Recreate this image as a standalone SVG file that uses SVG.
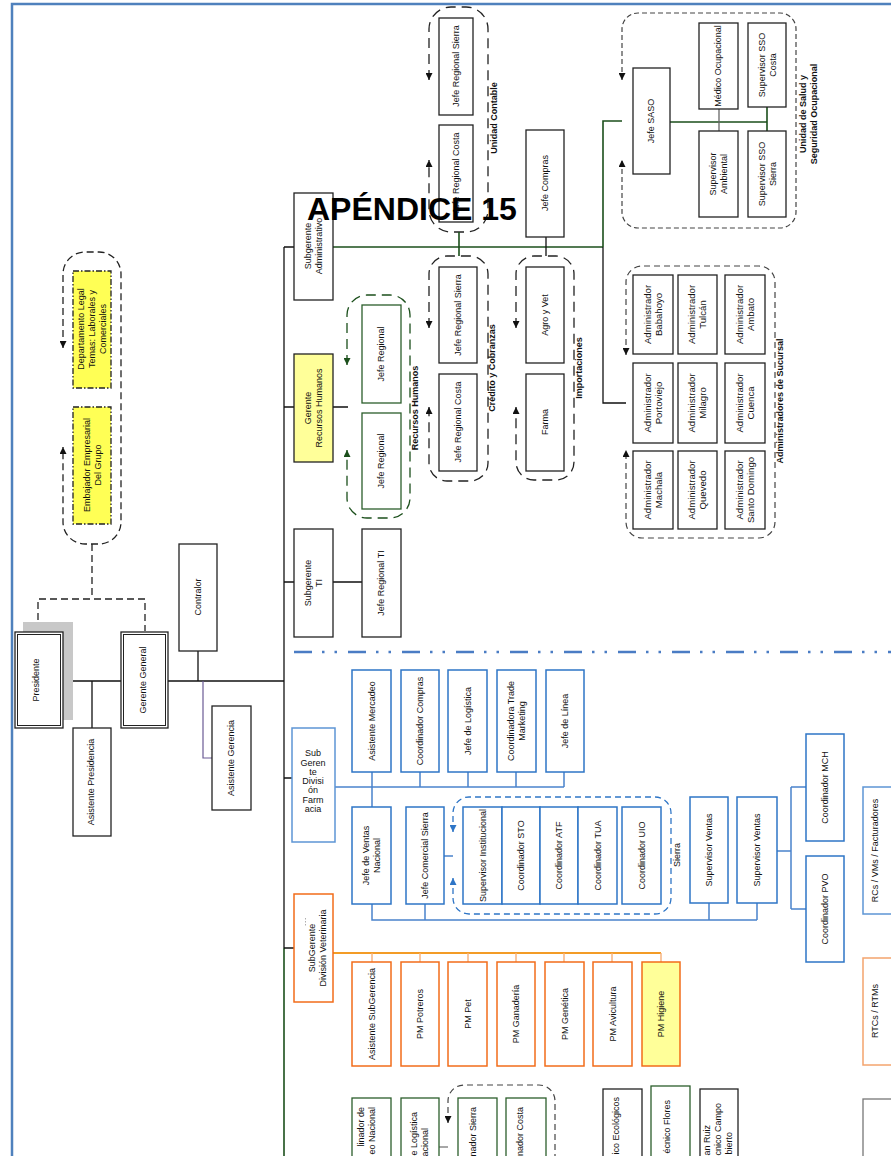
<svg xmlns="http://www.w3.org/2000/svg" width="891" height="1156" viewBox="0 0 891 1156">
  <style>
    .t { font-family: "Liberation Sans", Arial, sans-serif; font-size: 9px; text-anchor: middle; fill: #111; }
    .te { font-family: "Liberation Sans", Arial, sans-serif; font-size: 9px; text-anchor: end; fill: #111; }
    .ta { font-size: 9.6px; }
    .tb { font-weight: bold; }
    .box { fill: #fff; stroke: #222; stroke-width: 1.3; }
    .dbl { fill: none; stroke: #222; stroke-width: 1; }
    .gbox { fill: #fff; stroke: #2b5e2b; stroke-width: 1.3; }
    .bbox { fill: #fff; stroke: #2e75c6; stroke-width: 1.5; }
    .bbox2 { fill: #fff; stroke: #5d95d5; stroke-width: 1.5; }
    .obox { fill: #fff; stroke: #f26c1a; stroke-width: 1.5; }
    .ylw { fill: #ffff99; }
    .ylw2 { fill: #ffff55; stroke-dasharray: 6 2 1.5 2; }
    .ln { fill: none; stroke: #111; stroke-width: 1.3; }
    .lng { fill: none; stroke: #1b4f1b; stroke-width: 1.6; }
    .lnb { fill: none; stroke: #4a83cc; stroke-width: 1.5; }
    .lno { fill: none; stroke: #f39c26; stroke-width: 1.8; }
    .lno2 { fill: none; stroke: #f5b07a; stroke-width: 1.4; }
    .grp { fill: none; stroke: #222; stroke-width: 1.3; stroke-dasharray: 10 6; }
    .grp-s { fill: none; stroke: #444; stroke-width: 1.2; stroke-dasharray: 6 4; }
    .grp-g { fill: none; stroke: #1b4f1b; stroke-width: 1.3; stroke-dasharray: 10 6; }
    .grp-b { fill: none; stroke: #2e75c6; stroke-width: 1.3; stroke-dasharray: 6 4; }
  </style>
  <defs>
    <marker id="ah" viewBox="0 0 10 10" refX="10" refY="5" markerWidth="7" markerHeight="7" markerUnits="userSpaceOnUse" orient="auto-start-reverse">
      <path d="M0,0 L10,5 L0,10 z" fill="#111"/>
    </marker>
    <marker id="ahg" viewBox="0 0 10 10" refX="10" refY="5" markerWidth="7" markerHeight="7" markerUnits="userSpaceOnUse" orient="auto-start-reverse">
      <path d="M0,0 L10,5 L0,10 z" fill="#1b4f1b"/>
    </marker>
    <marker id="ahb" viewBox="0 0 10 10" refX="10" refY="5" markerWidth="7" markerHeight="7" markerUnits="userSpaceOnUse" orient="auto-start-reverse">
      <path d="M0,0 L10,5 L0,10 z" fill="#2e75c6"/>
    </marker>
  </defs>

  <rect width="891" height="1156" fill="#fff"/>

  <!-- page frame -->
  <path d="M12,1156 V4 H891" fill="none" stroke="#4f81bd" stroke-width="2.5"/>

  <!-- dash-dot divider -->
  <path d="M294,652 H891" fill="none" stroke="#4a7cc4" stroke-width="2.6" stroke-dasharray="18 10 2.5 10 2.5 11"/>

  <!-- dashed group outlines with arrowheads -->
  <g id="groups">
    <path class="grp" style="stroke-dasharray:7 4" marker-start="url(#ah)" marker-end="url(#ah)" d="M63,348 V274 A22,22 0 0 1 85,252 H99 A22,22 0 0 1 121,274 V522 A22,22 0 0 1 99,544 H85 A22,22 0 0 1 63,522 V447"/>
    <path class="grp" marker-start="url(#ah)" marker-end="url(#ah)" d="M429,80 V29 A22,22 0 0 1 451,7 H466 A22,22 0 0 1 488,29 V210 A22,22 0 0 1 466,232 H451 A22,22 0 0 1 429,210 V160"/>
    <path class="grp" marker-start="url(#ah)" marker-end="url(#ah)" d="M429,328 V274 A18,18 0 0 1 447,256 H470 A18,18 0 0 1 488,274 V463 A18,18 0 0 1 470,481 H447 A18,18 0 0 1 429,463 V407"/>
    <path class="grp" marker-start="url(#ah)" marker-end="url(#ah)" d="M516,328 V274 A18,18 0 0 1 534,256 H556 A18,18 0 0 1 574,274 V462 A18,18 0 0 1 556,480 H534 A18,18 0 0 1 516,462 V407"/>
    <path class="grp-g" marker-start="url(#ahg)" marker-end="url(#ahg)" d="M347,365 V315 A20,20 0 0 1 367,295 H390 A20,20 0 0 1 410,315 V498 A20,20 0 0 1 390,518 H367 A20,20 0 0 1 347,498 V450"/>
    <path class="grp-s" style="stroke-dasharray:5 3" marker-start="url(#ah)" marker-end="url(#ah)" d="M622,80 V29 A16,16 0 0 1 638,13 H780 A16,16 0 0 1 796,29 V212 A16,16 0 0 1 780,228 H638 A16,16 0 0 1 622,212 V160"/>
    <path class="grp-s" marker-start="url(#ah)" marker-end="url(#ah)" d="M626,355 V282 A16,16 0 0 1 642,266 H759 A16,16 0 0 1 775,282 V522 A16,16 0 0 1 759,538 H642 A16,16 0 0 1 626,522 V450"/>
    <path class="grp-b" marker-start="url(#ahb)" marker-end="url(#ahb)" d="M453,832 V813 A16,16 0 0 1 469,797 H655 A16,16 0 0 1 671,813 V898 A16,16 0 0 1 655,914 H469 A16,16 0 0 1 453,898 V878"/>
    <path class="grp-s" marker-start="url(#ah)" d="M448,1123 V1101 A16,16 0 0 1 464,1085 H539 A16,16 0 0 1 555,1101 V1160"/>
  </g>

  <!-- connectors -->
  <g id="connectors">
    <path class="grp" style="stroke-dasharray:7 4" d="M92,544 V599 M38,631 V599 H145 V631"/>
    <path class="ln" d="M63,681 H121 M92,681 V728 M198,651 V681"/>
    <path class="ln" stroke-width="1.8" d="M168,681 H284"/>
    <path fill="none" stroke="#6b5b95" stroke-width="1.2" d="M203,681 V758 H212"/>
    <path class="ln" stroke-width="2" d="M284,247 V948"/>
    <path class="lng" stroke-width="2" d="M284,948 V1156"/>
    <path class="ln" d="M284,247 H294 M284,407 H294 M333,407 H348 M284,582 H294 M333,582 H362 M284,778 H292 M284,948 H294"/>
    <path class="lng" stroke-width="1.8" d="M333,247 H603"/>
    <path class="lng" d="M459,232 V256 M603,247 V121 H622 M670,122 H767 M767,107 V131"/>
    <path class="ln" d="M546,237 V256 M603,247 V403 H626"/>
    <path fill="none" stroke="#666" stroke-width="1.3" d="M719,109 V131"/>
    <path class="lnb" stroke-width="1.8" d="M335,787 H564"/>
    <path class="lnb" stroke="#7ea7dc" d="M372,772 V807 M420,772 V787 M468,772 V787 M516,772 V787 M564,772 V787"/>
    <path class="lnb" d="M444,856 H453 M372,904 V920 H757 M425,904 V920 M709,903 V920 M757,903 V920"/>
    <path class="lnb" d="M777,851 H791 M791,787 V909 M791,787 H806 M791,909 H806"/>
    <path class="lno" d="M333,953 H564"/>
    <path class="lno" stroke="#f8c97a" d="M564,953 H661"/>
    <path class="lno2" d="M372,953 V962 M420,953 V962 M468,953 V962 M516,953 V962 M564,953 V962 M612,953 V962 M661,953 V962"/>
    <path fill="none" stroke="#777" stroke-width="1.3" d="M439,1147 H448"/>
  </g>

  <!-- executive level -->
  <g id="presidente">
    <rect x="23" y="622" width="50" height="98" fill="#c8c8c8"/>
    <rect class="box" x="15" y="632" width="48" height="96"/>
    <rect class="dbl" x="17.5" y="634.5" width="43" height="91"/>
    <text class="t" transform="translate(36,680) rotate(-90)" y="3.2">Presidente</text>
  </g>
  <g id="gerente-general">
    <rect class="box" x="121" y="632" width="47" height="96"/>
    <rect class="dbl" x="123.5" y="634.5" width="42" height="91"/>
    <text class="t" transform="translate(143,680) rotate(-90)" y="3.2">Gerente General</text>
  </g>
  <g id="asistente-presidencia">
    <rect class="box" x="73" y="728" width="38" height="108"/>
    <text class="t" transform="translate(91,782) rotate(-90)" y="3.2">Asistente Presidencia</text>
  </g>
  <g id="contralor">
    <rect class="box" x="179" y="544" width="38" height="107"/>
    <text class="t" transform="translate(198,597) rotate(-90)" y="3.2">Contralor</text>
  </g>
  <g id="asistente-gerencia">
    <rect class="box" x="212" y="706" width="39" height="104"/>
    <text class="t" transform="translate(231,758) rotate(-90)" y="3.2">Asistente Gerencia</text>
  </g>
  <g id="departamento-legal">
    <rect class="box ylw2" x="73" y="271" width="38" height="117"/>
    <text class="t" transform="translate(92,329) rotate(-90)"><tspan x="0" y="-7.8">Departamento Legal</tspan><tspan x="0" y="3.2">Temas: Laborales y</tspan><tspan x="0" y="14.2">Comerciales</tspan></text>
  </g>
  <g id="embajador">
    <rect class="box ylw2" x="73" y="407" width="38" height="117"/>
    <text class="t" transform="translate(92,465) rotate(-90)"><tspan x="0" y="-2.3">Embajador Empresarial</tspan><tspan x="0" y="8.7">Del Grupo</tspan></text>
  </g>

  <!-- administrative branch -->
  <g id="subgerente-administrativo">
    <rect class="box" x="294" y="193" width="39" height="107"/>
    <text class="t" transform="translate(313,246) rotate(-90)"><tspan x="0" y="-2.3">Subgerente</tspan><tspan x="0" y="8.7">Administrativo</tspan></text>
  </g>
  <g id="uc-jefe-sierra">
    <rect class="box" x="439" y="18" width="34" height="97"/>
    <text class="t" transform="translate(456,66) rotate(-90)" y="3.2">Jefe Regional Sierra</text>
  </g>
  <g id="uc-jefe-costa">
    <rect class="box" x="439" y="125" width="34" height="97"/>
    <text class="t" transform="translate(456,173) rotate(-90)" y="3.2">Jefe Regional Costa</text>
  </g>
  <g id="gerente-rrhh">
    <rect class="box ylw" x="294" y="354" width="39" height="108"/>
    <text class="t" transform="translate(313,408) rotate(-90)"><tspan x="0" y="-2.3">Gerente</tspan><tspan x="0" y="8.7">Recursos Humanos</tspan></text>
  </g>
  <g id="rh-jefe-1">
    <rect class="gbox" x="362" y="305" width="39" height="98"/>
    <text class="t" transform="translate(381,354) rotate(-90)" y="3.2">Jefe Regional</text>
  </g>
  <g id="rh-jefe-2">
    <rect class="gbox" x="362" y="413" width="39" height="96"/>
    <text class="t" transform="translate(381,461) rotate(-90)" y="3.2">Jefe Regional</text>
  </g>
  <g id="cc-jefe-sierra">
    <rect class="box" x="439" y="267" width="38" height="96"/>
    <text class="t" transform="translate(458,315) rotate(-90)" y="3.2">Jefe Regional Sierra</text>
  </g>
  <g id="cc-jefe-costa">
    <rect class="box" x="439" y="374" width="38" height="97"/>
    <text class="t" transform="translate(458,422) rotate(-90)" y="3.2">Jefe Regional Costa</text>
  </g>
  <g id="jefe-compras">
    <rect class="box" x="526" y="130" width="38" height="107"/>
    <text class="t" transform="translate(545,183) rotate(-90)" y="3.2">Jefe Compras</text>
  </g>
  <g id="agro-vet">
    <rect class="box" x="526" y="267" width="38" height="96"/>
    <text class="t" transform="translate(545,315) rotate(-90)" y="3.2">Agro y Vet</text>
  </g>
  <g id="farma">
    <rect class="box" x="526" y="374" width="38" height="97"/>
    <text class="t" transform="translate(545,422) rotate(-90)" y="3.2">Farma</text>
  </g>
  <g id="jefe-saso">
    <rect class="box" x="633" y="68" width="37" height="106"/>
    <text class="t" transform="translate(651,121) rotate(-90)" y="3.2">Jefe SASO</text>
  </g>
  <g id="medico">
    <rect class="box" x="699" y="23" width="39" height="86"/>
    <text class="t" transform="translate(718,66) rotate(-90)" y="3.2">Médico Ocupacional</text>
  </g>
  <g id="sso-costa">
    <rect class="box" x="748" y="23" width="38" height="84"/>
    <text class="t" transform="translate(767,65) rotate(-90)"><tspan x="0" y="-2.3">Supervisor SSO</tspan><tspan x="0" y="8.7">Costa</tspan></text>
  </g>
  <g id="sup-ambiental">
    <rect class="box" x="699" y="131" width="39" height="86"/>
    <text class="t" transform="translate(718,174) rotate(-90)"><tspan x="0" y="-2.3">Supervisor</tspan><tspan x="0" y="8.7">Ambiental</tspan></text>
  </g>
  <g id="sso-sierra">
    <rect class="box" x="748" y="131" width="38" height="86"/>
    <text class="t" transform="translate(767,174) rotate(-90)"><tspan x="0" y="-2.3">Supervisor SSO</tspan><tspan x="0" y="8.7">Sierra</tspan></text>
  </g>

  <g id="adm-babahoyo">
    <rect class="box" x="633" y="275" width="40" height="79"/>
    <text class="t ta" transform="translate(653,314.5) rotate(-90)"><tspan x="0" y="-2.3">Administrador</tspan><tspan x="0" y="8.7">Babahoyo</tspan></text>
  </g>
  <g id="adm-tulcan">
    <rect class="box" x="678" y="275" width="39" height="79"/>
    <text class="t ta" transform="translate(697.5,314.5) rotate(-90)"><tspan x="0" y="-2.3">Administrador</tspan><tspan x="0" y="8.7">Tulcán</tspan></text>
  </g>
  <g id="adm-ambato">
    <rect class="box" x="725" y="275" width="40" height="79"/>
    <text class="t ta" transform="translate(745,314.5) rotate(-90)"><tspan x="0" y="-2.3">Administrador</tspan><tspan x="0" y="8.7">Ambato</tspan></text>
  </g>
  <g id="adm-portoviejo">
    <rect class="box" x="633" y="363" width="40" height="80"/>
    <text class="t ta" transform="translate(653,403) rotate(-90)"><tspan x="0" y="-2.3">Administrador</tspan><tspan x="0" y="8.7">Portoviejo</tspan></text>
  </g>
  <g id="adm-milagro">
    <rect class="box" x="678" y="363" width="39" height="80"/>
    <text class="t ta" transform="translate(697.5,403) rotate(-90)"><tspan x="0" y="-2.3">Administrador</tspan><tspan x="0" y="8.7">Milagro</tspan></text>
  </g>
  <g id="adm-cuenca">
    <rect class="box" x="725" y="363" width="40" height="80"/>
    <text class="t ta" transform="translate(745,403) rotate(-90)"><tspan x="0" y="-2.3">Administrador</tspan><tspan x="0" y="8.7">Cuenca</tspan></text>
  </g>
  <g id="adm-machala">
    <rect class="box" x="633" y="451" width="40" height="78"/>
    <text class="t ta" transform="translate(653,490) rotate(-90)"><tspan x="0" y="-2.3">Administrador</tspan><tspan x="0" y="8.7">Machala</tspan></text>
  </g>
  <g id="adm-quevedo">
    <rect class="box" x="678" y="451" width="39" height="78"/>
    <text class="t ta" transform="translate(697.5,490) rotate(-90)"><tspan x="0" y="-2.3">Administrador</tspan><tspan x="0" y="8.7">Quevedo</tspan></text>
  </g>
  <g id="adm-santo-domingo">
    <rect class="box" x="725" y="451" width="40" height="78"/>
    <text class="t ta" transform="translate(745,490) rotate(-90)"><tspan x="0" y="-2.3">Administrador</tspan><tspan x="0" y="8.7">Santo Domingo</tspan></text>
  </g>

  <g id="subgerente-ti">
    <rect class="box" x="294" y="529" width="39" height="108"/>
    <text class="t" transform="translate(313,583) rotate(-90)"><tspan x="0" y="-2.3">Subgerente</tspan><tspan x="0" y="8.7">TI</tspan></text>
  </g>
  <g id="jefe-ti">
    <rect class="box" x="362" y="529" width="39" height="108"/>
    <text class="t" transform="translate(381,583) rotate(-90)" y="3.2">Jefe Regional TI</text>
  </g>

  <!-- group labels -->
  <g id="group-labels">
    <text class="t tb" transform="translate(494,118) rotate(-90)" y="3.2">Unidad Contable</text>
    <text class="t tb" transform="translate(415,408) rotate(-90)" y="3.2">Recursos Humanos</text>
    <text class="t tb" transform="translate(492,368) rotate(-90)" y="3.2">Crédito y Cobranzas</text>
    <text class="t tb" transform="translate(579,368) rotate(-90)" y="3.2">Importaciones</text>
    <text class="t tb" transform="translate(808,114) rotate(-90)"><tspan x="0" y="-2.3">Unidad de Salud y</tspan><tspan x="0" y="8.7">Seguridad Ocupacional</tspan></text>
    <text class="t tb" transform="translate(780,401) rotate(-90)" y="3.2">Administradores de Sucursal</text>
    <text class="t" transform="translate(677,855) rotate(-90)" y="3.2">Sierra</text>
  </g>

  <!-- pharmacy division -->
  <g id="sg-farmacia">
    <rect class="bbox2" x="292" y="728" width="43" height="114"/>
    <text class="t"><tspan x="313" y="756">Sub</tspan><tspan x="313" y="765.5">Geren</tspan><tspan x="313" y="775">te</tspan><tspan x="313" y="784">Divisi</tspan><tspan x="313" y="793">ón</tspan><tspan x="313" y="802.5">Farm</tspan><tspan x="313" y="812">acia</tspan></text>
  </g>
  <g id="asistente-mercadeo">
    <rect class="bbox" x="352" y="670" width="39" height="102"/>
    <text class="t" transform="translate(371.5,721) rotate(-90)" y="3.2">Asistente Mercadeo</text>
  </g>
  <g id="coordinador-compras">
    <rect class="bbox" x="401" y="670" width="38" height="102"/>
    <text class="t" transform="translate(420,721) rotate(-90)" y="3.2">Coordinador Compras</text>
  </g>
  <g id="jefe-logistica">
    <rect class="bbox" x="448" y="670" width="39" height="102"/>
    <text class="t" transform="translate(467.5,721) rotate(-90)" y="3.2">Jefe de Logística</text>
  </g>
  <g id="coordinadora-trade">
    <rect class="bbox" x="497" y="670" width="39" height="102"/>
    <text class="t" transform="translate(516.5,721) rotate(-90)"><tspan x="0" y="-2.3">Coordinadora Trade</tspan><tspan x="0" y="8.7">Marketing</tspan></text>
  </g>
  <g id="jefe-linea">
    <rect class="bbox" x="546" y="670" width="38" height="102"/>
    <text class="t" transform="translate(565,721) rotate(-90)" y="3.2">Jefe de Línea</text>
  </g>
  <g id="jefe-ventas-nacional">
    <rect class="bbox" x="352" y="807" width="39" height="97"/>
    <text class="t" transform="translate(371.5,855.5) rotate(-90)"><tspan x="0" y="-2.3">Jefe de Ventas</tspan><tspan x="0" y="8.7">Nacional</tspan></text>
  </g>
  <g id="jefe-comercial-sierra">
    <rect class="bbox" x="406" y="807" width="38" height="97"/>
    <text class="t" transform="translate(425,855.5) rotate(-90)" y="3.2">Jefe Comercial Sierra</text>
  </g>
  <g id="supervisor-institucional">
    <rect class="bbox" x="463" y="807" width="39" height="97"/>
    <text class="t" transform="translate(482.5,855.5) rotate(-90)" y="3.2">Supervisor Institucional</text>
  </g>
  <g id="coordinador-sto">
    <rect class="bbox" x="502" y="807" width="38" height="97"/>
    <text class="t" transform="translate(521,855.5) rotate(-90)" y="3.2">Coordinador STO</text>
  </g>
  <g id="coordinador-atf">
    <rect class="bbox" x="540" y="807" width="38" height="97"/>
    <text class="t" transform="translate(559,855.5) rotate(-90)" y="3.2">Coordinador ATF</text>
  </g>
  <g id="coordinador-tua">
    <rect class="bbox" x="578" y="807" width="39" height="97"/>
    <text class="t" transform="translate(597.5,855.5) rotate(-90)" y="3.2">Coordinador TUA</text>
  </g>
  <g id="coordinador-uio">
    <rect class="bbox" x="622" y="807" width="39" height="97"/>
    <text class="t" transform="translate(641.5,855.5) rotate(-90)" y="3.2">Coordinador UIO</text>
  </g>
  <g id="supervisor-ventas-1">
    <rect class="bbox" x="690" y="797" width="38" height="106"/>
    <text class="t" transform="translate(709,850) rotate(-90)" y="3.2">Supervisor Ventas</text>
  </g>
  <g id="supervisor-ventas-2">
    <rect class="bbox" x="737" y="797" width="40" height="106"/>
    <text class="t" transform="translate(757,850) rotate(-90)" y="3.2">Supervisor Ventas</text>
  </g>
  <g id="coordinador-mch">
    <rect class="bbox" x="806" y="734" width="38" height="107"/>
    <text class="t" transform="translate(825,787.5) rotate(-90)" y="3.2">Coordinador MCH</text>
  </g>
  <g id="coordinador-pvo">
    <rect class="bbox" x="806" y="856" width="38" height="106"/>
    <text class="t" transform="translate(825,909) rotate(-90)" y="3.2">Coordinador PVO</text>
  </g>
  <g id="rcs-vms">
    <rect class="bbox2" x="863" y="787" width="40" height="127"/>
    <text class="t" transform="translate(875,850.5) rotate(-90)" y="3.2">RCs / VMs / Facturadores</text>
  </g>

  <!-- veterinary division -->
  <g id="sg-veterinaria">
    <rect class="obox" x="294" y="894" width="39" height="108"/>
    <path d="M305.5,918 V926" fill="none" stroke="#999" stroke-width="0.8" stroke-dasharray="1.5 1.5"/>
    <text class="t" transform="translate(317,948) rotate(-90)"><tspan x="0" y="-2.3">SubGerente</tspan><tspan x="0" y="8.7">División Veterinaria</tspan></text>
  </g>
  <g id="asistente-subgerencia">
    <rect class="obox" x="352" y="962" width="39" height="104"/>
    <text class="t" transform="translate(371.5,1014) rotate(-90)" y="3.2">Asistente SubGerencia</text>
  </g>
  <g id="pm-potreros">
    <rect class="obox" x="401" y="962" width="38" height="104"/>
    <text class="t" transform="translate(420,1014) rotate(-90)" y="3.2">PM Potreros</text>
  </g>
  <g id="pm-pet">
    <rect class="obox" x="448" y="962" width="39" height="104"/>
    <text class="t" transform="translate(467.5,1014) rotate(-90)" y="3.2">PM Pet</text>
  </g>
  <g id="pm-ganaderia">
    <rect class="obox" x="497" y="962" width="38" height="104"/>
    <text class="t" transform="translate(516,1014) rotate(-90)" y="3.2">PM Ganadería</text>
  </g>
  <g id="pm-genetica">
    <rect class="obox" x="545" y="962" width="39" height="104"/>
    <text class="t" transform="translate(564.5,1014) rotate(-90)" y="3.2">PM Genética</text>
  </g>
  <g id="pm-avicultura">
    <rect class="obox" x="593" y="962" width="39" height="104"/>
    <text class="t" transform="translate(612.5,1014) rotate(-90)" y="3.2">PM Avicultura</text>
  </g>
  <g id="pm-higiene">
    <rect class="obox ylw" x="642" y="962" width="38" height="104"/>
    <text class="t" transform="translate(661,1014) rotate(-90)" y="3.2">PM Higiene</text>
  </g>
  <g id="rtcs-rtms">
    <rect class="obox" style="stroke:#f4a46e" x="863" y="958" width="40" height="107"/>
    <text class="t" transform="translate(875,1011) rotate(-90)" y="3.2">RTCs / RTMs</text>
  </g>

  <!-- lower row, running off the page edge -->
  <g id="coordinador-mercadeo-nacional">
    <rect class="gbox" x="352" y="1098" width="39" height="70"/>
    <text class="te" transform="translate(361,1107) rotate(-90)" y="3.2">linador de</text>
    <text class="te" transform="translate(372,1107) rotate(-90)" y="3.2">eo Nacional</text>
  </g>
  <g id="jefe-logistica-nacional">
    <rect class="gbox" x="401" y="1098" width="38" height="70"/>
    <text class="te" transform="translate(414,1112) rotate(-90)" y="3.2">e Logística</text>
    <text class="te" transform="translate(425,1128) rotate(-90)" y="3.2">acional</text>
  </g>
  <g id="coordinador-sierra">
    <rect class="gbox" x="458" y="1098" width="39" height="70"/>
    <text class="te" transform="translate(473,1107) rotate(-90)" y="3.2">nador Sierra</text>
  </g>
  <g id="coordinador-costa">
    <rect class="gbox" x="506" y="1098" width="40" height="70"/>
    <text class="te" transform="translate(520,1107) rotate(-90)" y="3.2">nador Costa</text>
  </g>
  <g id="tecnico-ecologicos">
    <rect class="box" x="603" y="1089" width="39" height="80"/>
    <text class="te" transform="translate(616,1097) rotate(-90)" y="3.2">ico Ecológicos</text>
  </g>
  <g id="tecnico-flores">
    <rect class="gbox" x="651" y="1086" width="39" height="80"/>
    <text class="te" transform="translate(667,1100) rotate(-90)" y="3.2">écnico Flores</text>
  </g>
  <g id="tecnico-campo">
    <rect class="box" x="700" y="1089" width="38" height="80"/>
    <text class="te" transform="translate(707,1125) rotate(-90)" y="3.2">an Ruiz</text>
    <text class="te" transform="translate(718,1103) rotate(-90)" y="3.2">cnico Campo</text>
    <text class="te" transform="translate(729,1132) rotate(-90)" y="3.2">bierto</text>
  </g>
  <g id="box-right-edge">
    <rect class="box" style="stroke:#777" x="863" y="1099" width="40" height="70"/>
  </g>

  <!-- page heading -->
  <text x="307" y="220" font-family="'Liberation Sans', Arial, sans-serif" font-size="32" font-weight="bold" fill="#000">APÉNDICE 15</text>
</svg>
